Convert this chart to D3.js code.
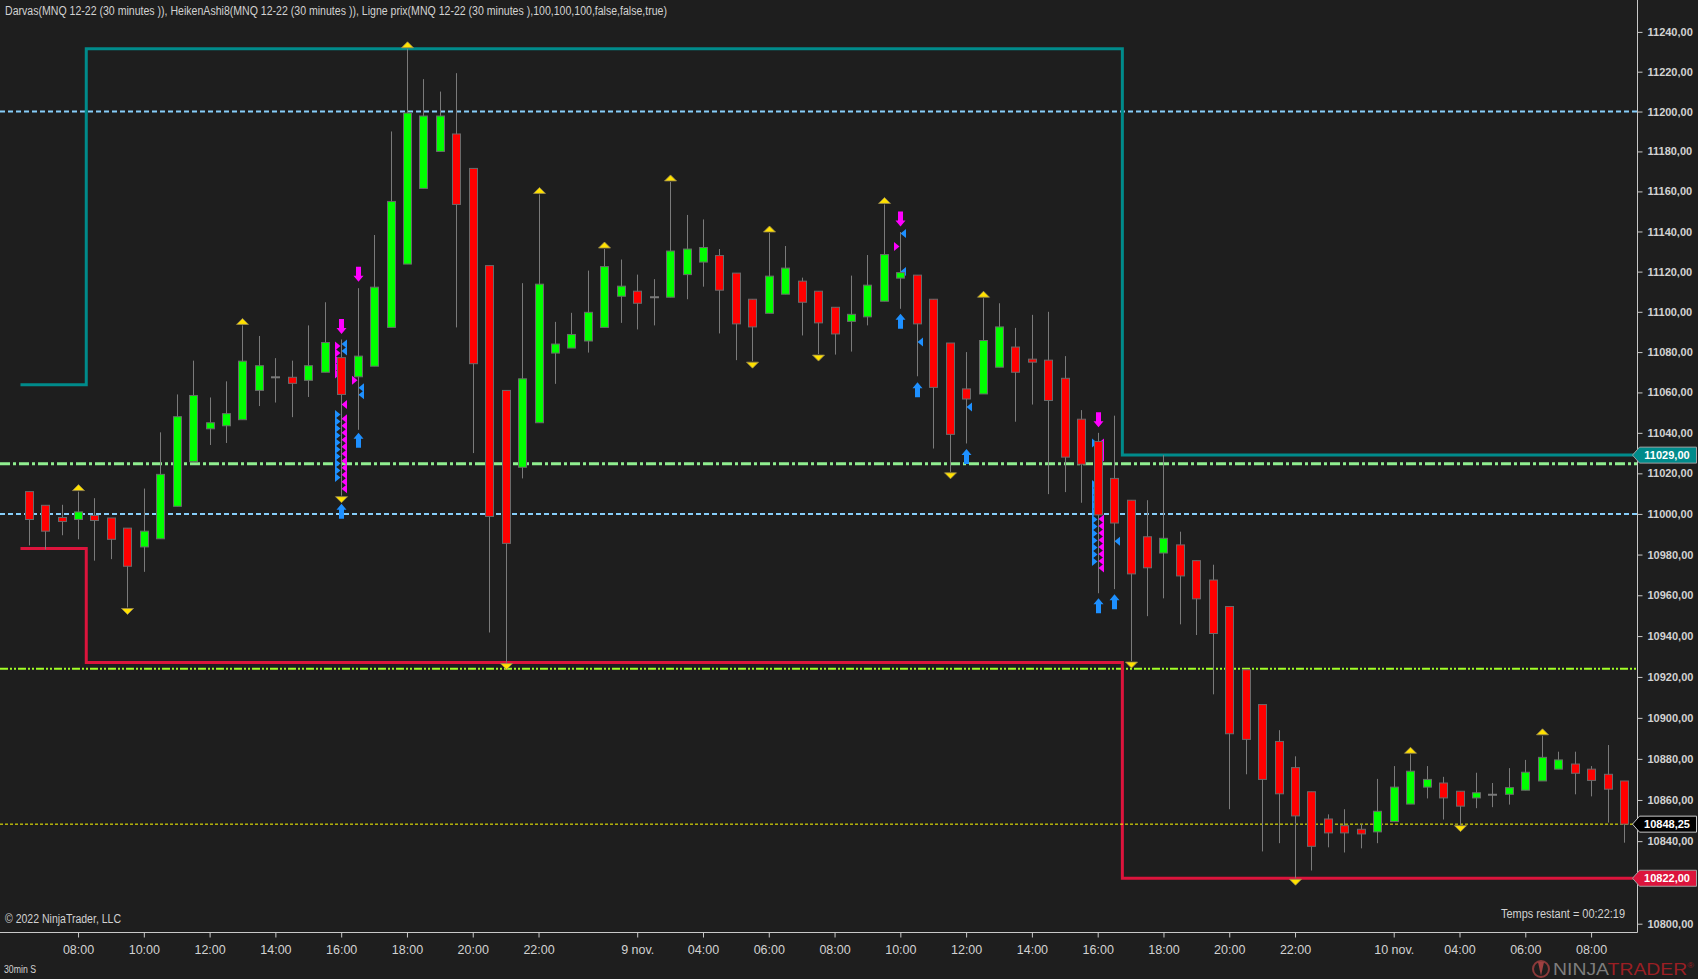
<!DOCTYPE html>
<html><head><meta charset="utf-8">
<script src="https://cdnjs.cloudflare.com/ajax/libs/d3/7.8.5/d3.min.js"></script>
<style>
html,body{margin:0;padding:0;background:#1e1e1e;overflow:hidden}
svg{display:block}
</style></head><body>
<svg id="chart" width="1698" height="979"></svg>
<script>
// ---------- DATA ----------
const open = [11011,11004.25,10998.25,10997.25,10999.25,10998,10993,10983.75,10987.75,11003.75,
11025.75,11042,11043.5,11046.5,11061,11067.5,11067.5,11066,11070,11077.25,
11067.75,11073,11092.25,11123.75,11161.5,11180,11188.75,11171.5,11123,11061,
11023,11045,11079.5,11082,11085.5,11092.25,11107.75,11110.25,11107.25,11107.25,
11118.5,11124.75,11128,11119.25,11106.25,11099.25,11108.75,11115.25,11110.25,11102.25,
11095.25,11097.5,11105.25,11116.75,11118.25,11106.25,11084.5,11061.75,11059.25,11072.5,
11082.5,11076.5,11076,11067,11046.75,11035.75,11017.5,11006.75,10988.75,10980.75,
10984.75,10977,10967.5,10954.5,10923.5,10906.5,10888.5,10875.75,10864,10850.75,
10847.5,10845.75,10844.5,10849.5,10858,10866.25,10868.25,10864.25,10861,10862.5,
10862.75,10864.75,10869.25,10875,10877.5,10875,10872.5,10869.25];
const high = [11011,11004.25,11004.5,11011,11007.75,10998,10993,11012.5,11040.25,11059,
11075.75,11057.5,11065.5,11093.25,11088,11077,11075.75,11093.25,11104.75,11086.25,
11111.75,11138.25,11190,11231.5,11216.25,11210,11219.25,11171.5,11123,11061,
11114.25,11158.5,11095,11099.5,11120.5,11131.25,11126,11118.5,11116.25,11164.75,
11148.25,11146,11131.25,11119.25,11106.25,11139.25,11132.75,11117,11110.25,11102.25,
11118,11128.25,11153.5,11139.75,11118.25,11106.25,11084.5,11080,11106.75,11104.25,
11092,11098.5,11100,11078,11051.25,11040,11048.5,11006.75,11006.75,11029,
10991.25,10977,10975,10954.5,10923.5,10906.5,10894,10881.25,10864,10853,
10855.5,10848.25,10870.25,10876.5,10882.25,10876.5,10871.25,10864.25,10873.25,10868.25,
10875.5,10879.5,10891.25,10883.5,10883.5,10876.5,10886.75,10869.25];
const low = [10984.5,10982.5,10989.5,10987.5,10977,10977.75,10954,10971.5,10987.75,11003.75,
11025.75,11034,11035,11046.5,11053.25,11055,11047.75,11057.75,11070,11009,
11041.5,11073,11092.25,11123.75,11161.5,11180,11092.25,11030,10941.75,10927,
11017.5,11045,11064.25,11082,11079.75,11092.25,11094.5,11091.25,11093.25,11107.25,
11106.25,11112.5,11089.25,11076,11075.5,11099.25,11108.75,11088.25,11079,11078.75,
11080.25,11093.25,11105.25,11101.5,11068,11032.25,11020.75,11034.75,11059.25,11072.5,
11045.5,11054,11009.75,11010.75,11005.5,10961,10963,10927.75,10949.75,10958.5,
10945.75,10940.5,10911.5,10855.5,10872.5,10835,10839,10822,10825.75,10837,
10834.5,10836.5,10839,10849.5,10858,10860.75,10850.5,10848,10856,10856.5,
10857.75,10864.75,10869.25,10875,10862.75,10861.75,10849,10839.25];
const close = [10997.25,10991.5,10996.25,11001,10996.75,10987.5,10974.25,10991.5,11019.5,11048,
11058.5,11045,11049.5,11075.5,11073.25,11067.5,11064.5,11073.25,11084.75,11059,
11078,11112.25,11155,11199.25,11197.75,11197.75,11153.5,11074.25,10998.75,10985.5,
11066.75,11113.75,11084,11088.75,11099.75,11122.5,11112.75,11104.25,11107.25,11130.25,
11131.25,11132,11110.75,11094,11092.5,11117.75,11121.75,11104.75,11094.5,11089,
11098.75,11113.25,11128.5,11119.5,11094,11062.5,11039.25,11056.75,11085.75,11092.5,
11070,11075,11056,11028,11024.5,10999.5,10995.5,10970.5,10973.5,10988,
10969.5,10958.25,10941.25,10892.25,10889.5,10870,10863,10852.25,10837.5,10844,
10844,10843.5,10854.5,10866.25,10874,10870,10861,10857,10863.5,10862.5,
10866,10873.5,10880.75,10879.5,10873,10869.5,10865.25,10848.25];

const tickBars = [3,7,11,15,19,23,27,31,37,41,45,49,53,57,61,65,69,73,77,83,87,91,95];
const tickLabels = ["08:00","10:00","12:00","14:00","16:00","18:00","20:00","22:00","9 nov.",
  "04:00","06:00","08:00","10:00","12:00","14:00","16:00","18:00","20:00","22:00","10 nov.",
  "04:00","06:00","08:00"];
const priceTicks = [10800,10840,10860,10880,10900,10920,10940,10960,10980,11000,11020,
  11040,11060,11080,11100,11120,11140,11160,11180,11200,11220,11240];

const swingHighBars = [3,13,23,31,35,39,45,52,58,84,92];
const swingLowBars = [6,19,29,44,48,56,67,77,87];
const downArrows = [[19,11089],[20,11115],[53,11142.5],[65,11042.75]];
const upArrows = [[19,11005],[20,11040],[53,11099],[54,11065],[57,11032],[65,10958.5],[66,10960.5]];
// bar, top price, bottom price, colour key, side
const triStacks = [
  [19,11085,11067.5,'m','L'],[19,11086,11078.5,'b','R'],[19,11056,11051.5,'m','R'],
  [19,11049,11009.5,'m','R'],[19,11051,11015,'b','L'],
  [20,11068,11063.5,'m','L'],[20,11064.25,11055,'b','R'],
  [53,11141,11136,'b','R'],[53,11134.5,11129.5,'m','L'],[53,11121,11119,'b','R'],
  [54,11087,11083,'b','R'],[57,11054.75,11050.25,'b','R'],
  [65,11037,11031,'b','L'],[65,11037,11026,'m','R'],[65,11016.5,10972,'b','L'],
  [65,10999.5,10969.5,'m','R'],[66,10988.5,10984,'b','R']
];
const boxTop = [[-0.5,11063.75],[3.5,11231.5],[66.5,11029]];
const boxBottom = [[-0.5,10983],[3.5,10927],[66.5,10822]];
const blueLevels = [11200, 11000];
const greenLevel = 11024.75;
const limeLevel = 10924;
const lastPrice = 10848.25;

// ---------- LAYOUT ----------
const W = 1698, H = 979;
const plotRight = 1637.5, plotBottom = 932.5;
const svg = d3.select('#chart');
svg.append('rect').attr('width',W).attr('height',H).attr('fill','#1e1e1e');

const x = d3.scaleLinear().domain([0,97]).range([28.7, 28.7+97*16.446]);
const y = d3.scaleLog().domain([10800,11240]).range([923.7,31.9]);
const fmt = v => d3.format('.2f')(v).replace('.',',');
const txtCol = '#d2d2d2';
const narrow = "'Liberation Sans Narrow','Arial Narrow','Liberation Sans',Arial,sans-serif";
const sans = "'Liberation Sans',Arial,sans-serif";

const plot = svg.append('g');
plot.append('clipPath').attr('id','clip').append('rect')
  .attr('x',0).attr('y',0).attr('width',plotRight).attr('height',plotBottom);
const g = plot.append('g').attr('clip-path','url(#clip)');

// reference lines
blueLevels.forEach(v=>{
  g.append('line').attr('x1',0).attr('x2',plotRight).attr('y1',y(v)).attr('y2',y(v))
   .attr('stroke','#87cefa').attr('stroke-width',2).attr('stroke-dasharray','5,3');
});
g.append('line').attr('x1',0).attr('x2',plotRight).attr('y1',y(greenLevel)).attr('y2',y(greenLevel))
  .attr('stroke','#90ee90').attr('stroke-width',3).attr('stroke-dasharray','10,3,3,3');
g.append('line').attr('x1',0).attr('x2',plotRight).attr('y1',y(limeLevel)).attr('y2',y(limeLevel))
  .attr('stroke','#a2ff26').attr('stroke-width',2).attr('stroke-dasharray','8,2,2,2,2,2');

// darvas boxes
const stepLine = d3.line().x(d=>x(d[0])).y(d=>y(d[1])).curve(d3.curveStepAfter);
const endBar = x.invert(plotRight+2);
g.append('path').attr('d',stepLine(boxTop.concat([[endBar, boxTop[boxTop.length-1][1]]])))
  .attr('fill','none').attr('stroke','#008b8b').attr('stroke-width',3);
g.append('path').attr('d',stepLine(boxBottom.concat([[endBar, boxBottom[boxBottom.length-1][1]]])))
  .attr('fill','none').attr('stroke','#dc143c').attr('stroke-width',3);

// last price dotted
g.append('line').attr('x1',0).attr('x2',plotRight).attr('y1',y(lastPrice)).attr('y2',y(lastPrice))
  .attr('stroke','#ffff00').attr('stroke-width',1).attr('stroke-dasharray','3,2');

// small triangle stacks
const triCol = {m:'#ff00ff', b:'#1e90ff'};
triStacks.forEach(([bar,top,bot,c,side])=>{
  const cx = Math.round(x(bar));
  const ys = d3.range(y(top)+4, y(bot)-3, 7);
  if (ys.length===0) ys.push((y(top)+y(bot))/2);
  ys.forEach(yc=>{
    const pts = side==='L'
      ? [[cx-0.5,yc],[cx-6,yc-4.5],[cx-6,yc+4.5]]
      : [[cx+0.5,yc],[cx+6,yc-4.5],[cx+6,yc+4.5]];
    g.append('path').attr('d','M'+pts.map(p=>p.join(',')).join('L')+'Z').attr('fill',triCol[c]);
  });
});

// candles
const idx = d3.range(open.length);
const cg = g.append('g');
cg.selectAll('line.wick').data(idx).join('line')
  .attr('x1',i=>Math.round(x(i))+0.5).attr('x2',i=>Math.round(x(i))+0.5)
  .attr('y1',i=>y(high[i])).attr('y2',i=>y(low[i]))
  .attr('stroke','#7a7a7a').attr('stroke-width',1);
cg.selectAll('rect.body').data(idx.filter(i=>open[i]!==close[i])).join('rect')
  .attr('x',i=>Math.round(x(i))-3.5).attr('width',8)
  .attr('y',i=>y(Math.max(open[i],close[i])))
  .attr('height',i=>Math.max(1,Math.abs(y(open[i])-y(close[i]))))
  .attr('fill',i=>close[i]>open[i]?'#00ff00':'#ff0000')
  .attr('stroke','#6a6a6a').attr('stroke-width',1);
cg.selectAll('line.doji').data(idx.filter(i=>open[i]===close[i])).join('line')
  .attr('x1',i=>Math.round(x(i))-4).attr('x2',i=>Math.round(x(i))+5)
  .attr('y1',i=>y(open[i])).attr('y2',i=>y(open[i]))
  .attr('stroke','#7a7a7a').attr('stroke-width',2);

// swing triangles
swingHighBars.forEach(b=>{
  const cx = Math.round(x(b))+0.5, yb = y(high[b])-1;
  g.append('path').attr('d',`M${cx-6},${yb}L${cx+6},${yb}L${cx},${yb-6}Z`)
   .attr('fill','#ffe100').attr('stroke','#9a8a50').attr('stroke-width',0.8);
});
swingLowBars.forEach(b=>{
  const cx = Math.round(x(b))+0.5, yb = y(low[b])+1;
  g.append('path').attr('d',`M${cx-6},${yb}L${cx+6},${yb}L${cx},${yb+6}Z`)
   .attr('fill','#ffe100').attr('stroke','#9a8a50').attr('stroke-width',0.8);
});

// arrows
downArrows.forEach(([b,p])=>{
  const cx = Math.round(x(b))+0.5, t = y(p);
  g.append('path').attr('d',`M${cx-2.5},${t-15}L${cx+2.5},${t-15}L${cx+2.5},${t-6}L${cx+5},${t-6}L${cx},${t}L${cx-5},${t-6}L${cx-2.5},${t-6}Z`)
   .attr('fill','#ff00ff');
});
upArrows.forEach(([b,p])=>{
  const cx = Math.round(x(b))+0.5, t = y(p);
  g.append('path').attr('d',`M${cx-2.5},${t+15}L${cx+2.5},${t+15}L${cx+2.5},${t+6}L${cx+5},${t+6}L${cx},${t}L${cx-5},${t+6}L${cx-2.5},${t+6}Z`)
   .attr('fill','#1e90ff');
});

// ---------- AXES ----------
const yAxis = d3.axisRight(y).tickValues(priceTicks).tickFormat(fmt).tickSize(5).tickSizeOuter(0).tickPadding(5);
const ya = svg.append('g').attr('transform',`translate(${plotRight},0)`).call(yAxis);
ya.select('.domain').remove();
ya.selectAll('line').attr('stroke','#c8c8c8');
ya.selectAll('text').attr('fill',txtCol).attr('font-family',sans).attr('font-size','11px').attr('font-weight','bold');

const xAxis = d3.axisBottom(x).tickValues(tickBars).tickFormat((d,i)=>tickLabels[i]).tickSize(5).tickSizeOuter(0).tickPadding(8);
const xa = svg.append('g').attr('transform',`translate(0,${plotBottom})`).call(xAxis);
xa.select('.domain').remove();
xa.selectAll('line').attr('stroke','#c8c8c8');
xa.selectAll('text').attr('fill',txtCol).attr('font-family',narrow).attr('font-size','12.5px');

svg.append('line').attr('x1',plotRight).attr('x2',plotRight).attr('y1',0).attr('y2',plotBottom)
  .attr('stroke','#c8c8c8').attr('stroke-width',1);
svg.append('line').attr('x1',0).attr('x2',plotRight).attr('y1',plotBottom).attr('y2',plotBottom)
  .attr('stroke','#c8c8c8').attr('stroke-width',1);

// right-axis price markers
function marker(p, bg, border, label){
  const yc = y(p);
  svg.append('path')
    .attr('d',`M${plotRight-5},${yc}L${plotRight+2},${yc-8}L1696.5,${yc-8}L1696.5,${yc+8}L${plotRight+2},${yc+8}Z`)
    .attr('fill',bg).attr('stroke',border).attr('stroke-width',1);
  svg.append('text').attr('x',1667).attr('y',yc+4).attr('text-anchor','middle')
    .attr('fill','#ffffff').attr('font-family',sans).attr('font-size','11px').attr('font-weight','bold').text(label);
}
marker(boxTop[boxTop.length-1][1], '#008b8b', '#a0a0a0', fmt(boxTop[boxTop.length-1][1]));
marker(lastPrice, '#000000', '#c8c8c8', fmt(lastPrice));
marker(boxBottom[boxBottom.length-1][1], '#dc143c', '#a0a0a0', fmt(boxBottom[boxBottom.length-1][1]));

// ---------- TEXTS ----------
svg.append('text').attr('x',5).attr('y',15).attr('fill',txtCol).attr('font-family',narrow).attr('font-size','12.5px')
  .attr('textLength',662).attr('lengthAdjust','spacingAndGlyphs')
  .text('Darvas(MNQ 12-22 (30 minutes )), HeikenAshi8(MNQ 12-22 (30 minutes )), Ligne prix(MNQ 12-22 (30 minutes ),100,100,100,false,false,true)');
svg.append('text').attr('x',5).attr('y',923).attr('fill',txtCol).attr('font-family',narrow).attr('font-size','12.5px')
  .attr('textLength',116).attr('lengthAdjust','spacingAndGlyphs').text('© 2022 NinjaTrader, LLC');
svg.append('text').attr('x',1501).attr('y',918).attr('fill',txtCol).attr('font-family',narrow).attr('font-size','12.5px')
  .attr('textLength',124).attr('lengthAdjust','spacingAndGlyphs').text('Temps restant = 00:22:19');
svg.append('text').attr('x',4).attr('y',973).attr('fill',txtCol).attr('font-family',narrow).attr('font-size','10px')
  .attr('textLength',32).attr('lengthAdjust','spacingAndGlyphs').text('30min S');

// logo
const lg = svg.append('g');
lg.append('circle').attr('cx',1541).attr('cy',969).attr('r',8).attr('fill','none').attr('stroke','#8b3a3a').attr('stroke-width',2);
lg.append('path').attr('d','M1538,962 L1544,962 L1541,976 Z').attr('fill','#a04040');
const lt = lg.append('text').attr('x',1553).attr('y',975).attr('font-family',sans).attr('font-size','17px')
  .attr('textLength',141).attr('lengthAdjust','spacingAndGlyphs');
lt.append('tspan').attr('fill','#7d7d7d').text('NINJA');
lt.append('tspan').attr('fill','#9b1f24').text('TRADER');
lt.append('tspan').attr('fill','#9b1f24').attr('font-size','8px').attr('dy','-7').text('®');
</script>
</body></html>
